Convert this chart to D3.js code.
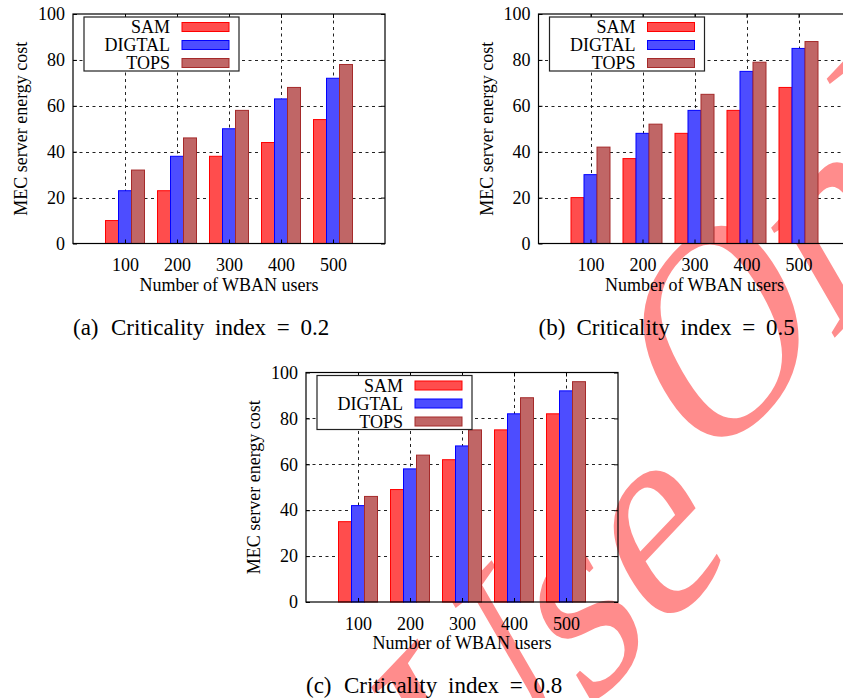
<!DOCTYPE html>
<html>
<head>
<meta charset="utf-8">
<script src="https://cdn.jsdelivr.net/npm/d3@7"></script>
<style>
  html, body { margin: 0; padding: 0; background: #fff; }
  svg { display: block; }
  text { font-family: "Liberation Serif", "Times New Roman", serif; fill: #000; }
</style>
</head>
<body>
<svg id="chart" width="843" height="698"></svg>
<script>
// ---- data ----
const categories = ["100", "200", "300", "400", "500"];
const seriesNames = ["SAM", "DIGTAL", "TOPS"];
const yTicks = [0, 20, 40, 60, 80, 100];

const samA = [10, 23, 38, 44, 54];
const digtalA = [23, 38, 50, 63, 72];
const topsA = [32, 46, 58, 68, 78];

const samB = [20, 37, 48, 58, 68];
const digtalB = [30, 48, 58, 75, 85];
const topsB = [42, 52, 65, 79, 88];

const samC = [35, 49, 62, 75, 82];
const digtalC = [42, 58, 68, 82, 92];
const topsC = [46, 64, 75, 89, 96];

const captions = ["(a)", "(b)", "(c)"];
const captionTexts = ["Criticality index = 0.2", "Criticality index = 0.5", "Criticality index = 0.8"];
const xTitle = "Number of WBAN users";
const yTitle = "MEC server energy cost";
const watermarkWords = ["Use", "Only"];

// ---- styles ----
const fills = ["#ff4d4d", "#4d4dff", "#c06666"];
const strokes = ["#ff0000", "#0000ff", "#a52a2a"];

const svg = d3.select("#chart");
svg.append("rect").attr("width", 843).attr("height", 698).attr("fill", "#fff");

// watermark (behind everything)
const wm = svg.append("text")
  .attr("transform", "translate(458,848) scale(1,1.35) rotate(-38)")
  .attr("font-size", 225)
  .style("fill", "#ff8c8c");
wm.append("tspan").text(watermarkWords[0]);
wm.append("tspan").attr("dx", 12).attr("dy", -66).text(watermarkWords[1]);

const panels = [
  { left: 73, top: 14, data: [samA, digtalA, topsA], cap: 0 },
  { left: 538.5, top: 14, data: [samB, digtalB, topsB], cap: 1 },
  { left: 306, top: 372.5, data: [samC, digtalC, topsC], cap: 2 }
];
const W = 312, H = 229.5;

panels.forEach(p => {
  const g = svg.append("g");
  const x = d3.scaleLinear().domain([0, categories.length + 1]).range([p.left, p.left + W]);
  const y = d3.scaleLinear().domain([0, 100]).range([p.top + H, p.top]);
  const bw = x(0.25) - x(0);

  // grid
  const grid = g.append("g").attr("stroke", "#222").attr("stroke-width", 1).attr("stroke-dasharray", "3,3.5");
  grid.selectAll("line.h").data(yTicks.slice(1, -1)).join("line")
    .attr("x1", p.left).attr("x2", p.left + W)
    .attr("y1", d => Math.round(y(d)) + 0.5).attr("y2", d => Math.round(y(d)) + 0.5);
  grid.selectAll("line.v").data(categories).join("line")
    .attr("x1", (d, i) => Math.round(x(i + 1)) + 0.5).attr("x2", (d, i) => Math.round(x(i + 1)) + 0.5)
    .attr("y1", p.top).attr("y2", p.top + H);

  // bars
  p.data.forEach((vals, s) => {
    g.append("g").selectAll("rect").data(vals).join("rect")
      .attr("x", (d, i) => x(i + 1 + (s - 1) * 0.25) - bw / 2)
      .attr("width", bw)
      .attr("y", d => y(d))
      .attr("height", d => y(0) - y(d))
      .attr("fill", fills[s])
      .attr("stroke", strokes[s])
      .attr("stroke-width", 1);
  });

  // axes
  const yAxis = d3.axisLeft(y).tickValues(yTicks).tickSize(-4).tickPadding(8);
  g.append("g").attr("transform", `translate(${p.left},0)`).call(yAxis);
  const yAxisR = d3.axisRight(y).tickValues(yTicks).tickSize(-4).tickFormat("");
  g.append("g").attr("transform", `translate(${p.left + W},0)`).call(yAxisR);
  const xAxis = d3.axisBottom(x).tickValues(categories.map((c, i) => i + 1))
    .tickFormat(i => categories[i - 1]).tickSize(-4).tickPadding(15);
  g.append("g").attr("transform", `translate(0,${p.top + H})`).call(xAxis);
  const xAxisT = d3.axisTop(x).tickValues(categories.map((c, i) => i + 1)).tickSize(-4).tickFormat("");
  g.append("g").attr("transform", `translate(0,${p.top})`).call(xAxisT);
  g.selectAll(".domain").remove();
  g.selectAll(".tick line").attr("stroke", "#000");
  g.selectAll(".tick text").attr("font-size", 18).attr("font-family", "Liberation Serif, serif");

  // border
  g.append("rect").attr("x", p.left).attr("y", p.top).attr("width", W).attr("height", H)
    .attr("fill", "none").attr("stroke", "#000").attr("stroke-width", 1.2);

  // titles
  g.append("text").attr("x", p.left + W / 2).attr("y", p.top + H + 47)
    .attr("text-anchor", "middle").attr("font-size", 18).text(xTitle);
  g.append("text").attr("transform", `translate(${p.left - 46},${p.top + H / 2}) rotate(-90)`)
    .attr("text-anchor", "middle").attr("font-size", 18).text(yTitle);

  // legend
  const lx = p.left + 11, ly = p.top + 3;
  const lg = g.append("g");
  lg.append("rect").attr("x", lx).attr("y", ly).attr("width", 155).attr("height", 54)
    .attr("fill", "#fff").attr("stroke", "#222").attr("stroke-width", 1.2);
  seriesNames.forEach((n, s) => {
    const cy = ly + 10 + s * 18;
    lg.append("text").attr("x", lx + 86).attr("y", cy + 6).attr("text-anchor", "end")
      .attr("font-size", 18).text(n);
    lg.append("rect").attr("x", lx + 98).attr("y", cy - 4.5).attr("width", 47).attr("height", 9)
      .attr("fill", fills[s]).attr("stroke", strokes[s]).attr("stroke-width", 1);
  });

  // caption
  const cap = g.append("text").attr("y", p.top + H + 91).attr("font-size", 23);
  cap.append("tspan").attr("x", p.left).text(captions[p.cap]);
  cap.append("tspan").attr("x", p.left + 38).attr("word-spacing", 5).text(captionTexts[p.cap]);
});
</script>
</body>
</html>
